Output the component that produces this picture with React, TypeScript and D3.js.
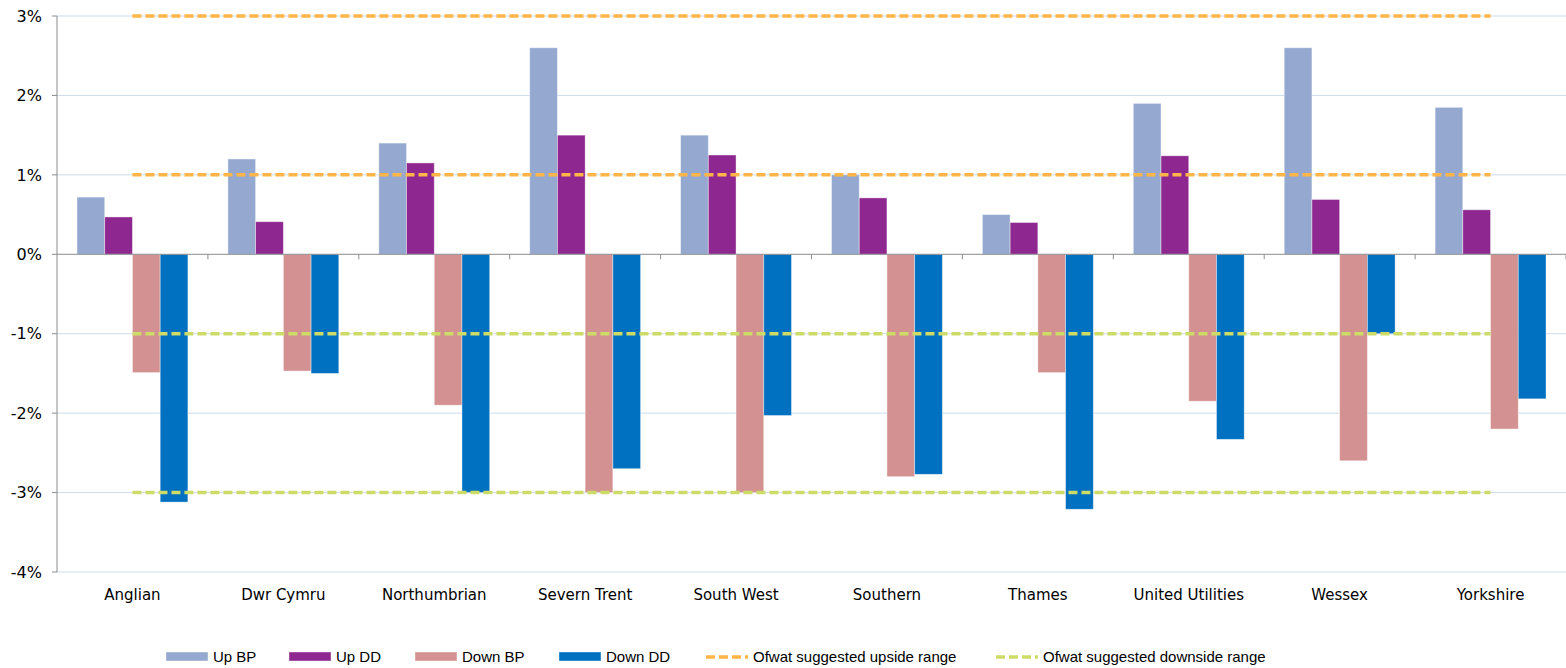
import React, { useEffect } from "react";
import * as d3 from "d3";

const categories = ["Anglian", "Dwr Cymru", "Northumbrian", "Severn Trent", "South West", "Southern", "Thames", "United Utilities", "Wessex", "Yorkshire"];
const upBP = [0.72, 1.2, 1.4, 2.6, 1.5, 1.0, 0.5, 1.9, 2.6, 1.85];
const upDD = [0.47, 0.41, 1.15, 1.5, 1.25, 0.71, 0.4, 1.24, 0.69, 0.56];
const downBP = [-1.49, -1.47, -1.9, -3.0, -3.0, -2.8, -1.49, -1.85, -2.6, -2.2];
const downDD = [-3.12, -1.5, -3.0, -2.7, -2.03, -2.77, -3.21, -2.33, -1.0, -1.82];
const upsideHigh = [3, 3, 3, 3, 3, 3, 3, 3, 3, 3];
const upsideLow = [1, 1, 1, 1, 1, 1, 1, 1, 1, 1];
const downsideLow = [-1, -1, -1, -1, -1, -1, -1, -1, -1, -1];
const downsideHigh = [-3, -3, -3, -3, -3, -3, -3, -3, -3, -3];
const yTicks = [3, 2, 1, 0, -1, -2, -3, -4];

const barSeries = [
  { name: "Up BP", values: upBP, color: "#95A9D0" },
  { name: "Up DD", values: upDD, color: "#8E278F" },
  { name: "Down BP", values: downBP, color: "#D39291" },
  { name: "Down DD", values: downDD, color: "#0070C0" },
];
const lineSeries = [
  { name: "Ofwat suggested upside range", values: upsideHigh, color: "#FFB548" },
  { name: "Ofwat suggested upside range", values: upsideLow, color: "#FFB548" },
  { name: "Ofwat suggested downside range", values: downsideLow, color: "#CDDC67" },
  { name: "Ofwat suggested downside range", values: downsideHigh, color: "#CDDC67" },
];

const W = 1566, H = 668;
const left = 57, right = 1566, top = 16, bottom = 572;
const font = "'DejaVu Sans', Verdana, sans-serif";
const legendFont = "'Liberation Sans', Arial, sans-serif";

export default function App() {
  useEffect(() => {
    document.body.style.margin = "0";
  }, []);

  const x0 = d3.scaleBand<string>().domain(categories).range([left, right]).paddingInner(0).paddingOuter(0);
  const bw = x0.bandwidth();
  const x1 = d3.scaleBand<string>().domain(barSeries.map(s => s.name)).range([20, bw - 20]).padding(0);
  const y = d3.scaleLinear().domain([-4, 3]).range([bottom, top]);
  const line = d3.line<number>().x((_, i) => (x0(categories[i]) as number) + bw / 2).y(d => y(d));

  const legendItems = [
    { type: "bar", name: "Up BP", color: "#95A9D0", x: 166 },
    { type: "bar", name: "Up DD", color: "#8E278F", x: 289 },
    { type: "bar", name: "Down BP", color: "#D39291", x: 415 },
    { type: "bar", name: "Down DD", color: "#0070C0", x: 559 },
    { type: "line", name: "Ofwat suggested upside range", color: "#FFB548", x: 706 },
    { type: "line", name: "Ofwat suggested downside range", color: "#CDDC67", x: 996 },
  ];

  return (
    <svg width={W} height={H} style={{ display: "block", background: "#fff" }}>
      {yTicks.map(t => (
        <g key={t}>
          {t !== 0 && <line x1={left} x2={right} y1={y(t)} y2={y(t)} stroke="#CFDCEA" strokeWidth={1} />}
          <line x1={left - 5} x2={left} y1={y(t)} y2={y(t)} stroke="#8C8C8C" />
          <text x={42} y={y(t)} dy="0.36em" textAnchor="end" fontFamily={font} fontSize={16} fill="#000">{`${t}%`}</text>
        </g>
      ))}
      {barSeries.map(s => (
        <g key={s.name}>
          {s.values.map((v, i) => {
            const bx = (x0(categories[i]) as number) + (x1(s.name) as number);
            const y0 = y(Math.max(0, v));
            const h = Math.abs(y(v) - y(0));
            return <rect key={i} x={bx} y={y0} width={x1.bandwidth()} height={h} fill={s.color} stroke="#ffffff" strokeOpacity={0.5} strokeWidth={0.8} />;
          })}
        </g>
      ))}
      <line x1={left} x2={right} y1={y(0)} y2={y(0)} stroke="#8C8C8C" strokeWidth={1} />
      {categories.map((c, i) => (
        <line key={c} x1={(x0(c) as number) + bw} x2={(x0(c) as number) + bw} y1={y(0)} y2={y(0) + 5} stroke="#8C8C8C" />
      ))}
      <line x1={left} x2={left} y1={top} y2={bottom} stroke="#8C8C8C" strokeWidth={1} />
      {lineSeries.map((s, k) => (
        <path key={k} d={line(s.values) || ""} fill="none" stroke={s.color} strokeWidth={3.5} strokeDasharray="9 4" />
      ))}
      {categories.map(c => (
        <text key={c} x={(x0(c) as number) + bw / 2} y={600} textAnchor="middle" fontFamily={font} fontSize={15} fill="#000">{c}</text>
      ))}
      {legendItems.map(it => (
        <g key={it.name}>
          {it.type === "bar" ? (
            <rect x={it.x} y={652} width={42} height={9} fill={it.color} stroke="#fff" strokeOpacity={0.5} strokeWidth={0.8} />
          ) : (
            <line x1={it.x} x2={it.x + 42} y1={657} y2={657} stroke={it.color} strokeWidth={3.5} strokeDasharray="9 4" />
          )}
          <text x={it.x + 47} y={657} dy="0.36em" fontFamily={legendFont} fontSize={15} fill="#000">{it.name}</text>
        </g>
      ))}
    </svg>
  );
}
